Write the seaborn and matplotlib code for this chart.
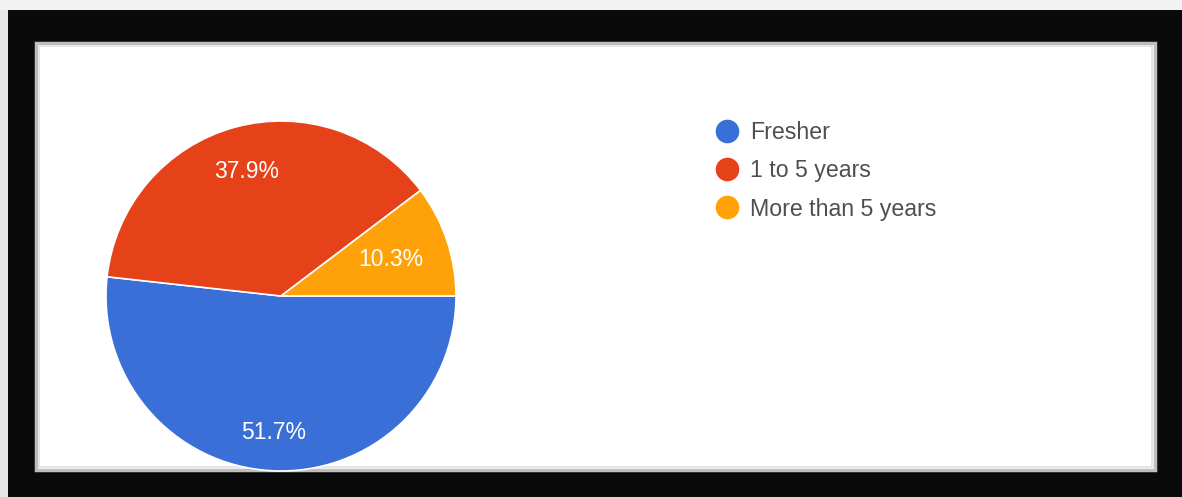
import numpy as np
import matplotlib
matplotlib.use("Agg")
import matplotlib.pyplot as plt
from matplotlib.patches import Rectangle
from matplotlib.lines import Line2D
import seaborn as sns

# Survey data: work experience of respondents
categories = ["Fresher", "1 to 5 years", "More than 5 years"]
shares = [51.7, 37.9, 10.3]
colors = ["#3a6fd8", "#e6421a", "#ffa20a"]
# radial placement of each percentage label, as a fraction of the radius
label_radius = [0.78, 0.74, 0.66]

sns.set_theme(style="white")
plt.rcParams["font.family"] = ["Liberation Sans", "DejaVu Sans"]

W, H = 1182, 497
fig = plt.figure(figsize=(W / 100, H / 100), dpi=100)
fig.patch.set_facecolor("#e6e6e6")

# Frame: black matte with a white, bevelled panel inside
bg = fig.add_axes([0, 0, 1, 1])
bg.set_xlim(0, W)
bg.set_ylim(H, 0)
bg.axis("off")
bg.add_patch(Rectangle((0, 0), W, 10, color="#f2f2f2", lw=0))
bg.add_patch(Rectangle((8, 10), W - 8, H - 10, color="#0a0a0a", lw=0))
px0, py0, px1, py1 = 36, 43, 1155, 470
bg.add_patch(Rectangle((px0, py0), px1 - px0, py1 - py0, facecolor="white",
                       edgecolor="#bdbdbd", lw=2.5))
bg.add_patch(Rectangle((px0 + 3, py0 + 3), px1 - px0 - 6, py1 - py0 - 6,
                       facecolor="none", edgecolor="#e2e2e2", lw=1.2))

# Chart area inside the panel, in pixel-like coordinates (y upward)
ax = fig.add_axes([(px0 + 3) / W, (H - py1) / H, (px1 - px0 - 6) / W, (py1 - py0 - 3) / H])
ax.patch.set_alpha(0)
cx, cy, r = 281, H - 296, 175
total = sum(shares)

wedges, texts, autotexts = ax.pie(
    shares, colors=colors, startangle=0, counterclock=False,
    center=(cx, cy), radius=r,
    autopct=lambda p: f"{p * total / 100:.1f}%",
    wedgeprops=dict(edgecolor="white", linewidth=1.2),
    textprops=dict(color="white", fontsize=16.5),
)
for w, t, f in zip(wedges, autotexts, label_radius):
    th = np.deg2rad((w.theta1 + w.theta2) / 2)
    t.set_position((cx + f * r * np.cos(th), cy + f * r * np.sin(th)))
    t.set_ha("center")
    t.set_va("center")

ax.set_aspect("auto")
ax.set_xlim(px0 + 3, px1 - 3)
ax.set_ylim(H - py1, H - py0 - 3)
ax.axis("off")

handles = [Line2D([], [], marker="o", ls="", markersize=16, markerfacecolor=c,
                  markeredgecolor=c) for c in colors]
fig.legend(handles, categories, loc="upper left",
           bbox_to_anchor=(715.5 / W, 1 - 121 / H), frameon=False,
           fontsize=16.7, labelcolor="#4f4f4f", handlelength=1.0,
           handletextpad=0.5, labelspacing=0.66, borderpad=0, borderaxespad=0)

fig.savefig("out.png", dpi=100, facecolor=fig.get_facecolor())
